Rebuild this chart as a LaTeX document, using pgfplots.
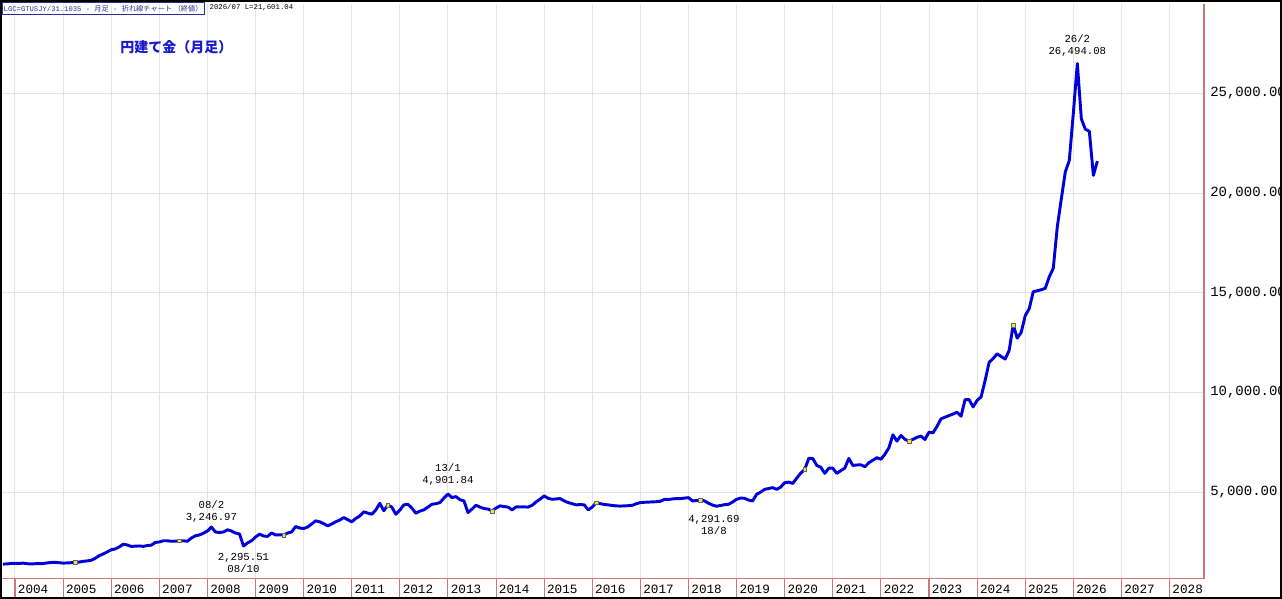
\documentclass[border=0pt]{standalone}
\usepackage{pgfplots}
\pgfplotsset{compat=1.18}
\usepackage{pgfplotstable}
\usepackage{fontspec}
\setmainfont{Liberation Sans}
\newfontfamily\mono{Liberation Mono}
\newfontfamily\cjk{Noto Sans CJK JP}
\definecolor{lineblue}{RGB}{0,0,220}
\definecolor{titleblue}{RGB}{25,25,205}
\definecolor{hdrblue}{RGB}{45,45,150}
\definecolor{gridgray}{RGB}{228,228,228}
\definecolor{axisred}{RGB}{205,120,120}
\definecolor{markyellow}{RGB}{240,230,60}
\pgfplotstableread[row sep=\\]{
v\\
1390\\1400\\1420\\
1430\\1420\\1440\\1410\\1400\\1410\\1410\\1420\\1450\\1470\\1480\\1460\\
1440\\1450\\1460\\1475\\1490\\1530\\1550\\1580\\1680\\1810\\1900\\2000\\
2110\\2150\\2250\\2390\\2350\\2275\\2290\\2300\\2280\\2320\\2340\\2475\\
2500\\2560\\2560\\2535\\2540\\2560\\2560\\2535\\2700\\2810\\2850\\2940\\
3050\\3247\\3000\\2975\\3000\\3110\\3050\\2950\\2900\\2296\\2450\\2560\\
2750\\2890\\2800\\2780\\2950\\2850\\2860\\2850\\2950\\3000\\3275\\3200\\
3175\\3250\\3400\\3560\\3510\\3420\\3310\\3400\\3510\\3600\\3725\\3620\\
3510\\3680\\3800\\4010\\3950\\3890\\4100\\4440\\4065\\4340\\4250\\3890\\
4100\\4360\\4390\\4200\\3940\\4050\\4110\\4250\\4390\\4420\\4475\\4700\\
4902\\4725\\4775\\4620\\4560\\3975\\4150\\4340\\4250\\4175\\4150\\4060\\
4200\\4310\\4275\\4250\\4110\\4260\\4255\\4260\\4250\\4340\\4510\\4650\\
4810\\4690\\4640\\4660\\4675\\4560\\4475\\4420\\4360\\4380\\4360\\4110\\
4250\\4475\\4420\\4380\\4360\\4330\\4310\\4300\\4310\\4320\\4340\\4420\\
4475\\4490\\4500\\4510\\4520\\4540\\4640\\4630\\4660\\4675\\4670\\4700\\
4725\\4560\\4580\\4610\\4560\\4440\\4350\\4292\\4330\\4370\\4390\\4500\\
4640\\4700\\4690\\4600\\4560\\4890\\5000\\5140\\5180\\5225\\5140\\5250\\
5475\\5500\\5440\\5700\\5950\\6140\\6690\\6690\\6340\\6250\\5940\\6200\\
6200\\5940\\6080\\6205\\6690\\6340\\6360\\6375\\6275\\6475\\6600\\6725\\
6650\\6900\\7225\\7875\\7560\\7840\\7650\\7560\\7650\\7750\\7810\\7640\\
8010\\7975\\8300\\8675\\8760\\8840\\8920\\9010\\8810\\9640\\9640\\9275\\
9600\\9775\\10600\\11510\\11700\\11940\\11800\\11675\\12110\\13390\\12725\\13010\\
13850\\14200\\15050\\15100\\15150\\15225\\15800\\16225\\18300\\19700\\21060\\21640\\
24000\\26494\\23725\\23200\\23100\\20890\\21601\\
}\gold
\begin{document}
\begin{tikzpicture}[x=1pt,y=1pt]
\useasboundingbox (0,0) rectangle (961.5,449.25);
\begin{axis}[
  at={(0,10.2)}, anchor=south west, scale only axis,
  width=903pt, height=431.25pt,
  xmin=-3.74, xmax=296.6, ymin=660, ymax=29500,
  axis x line*=bottom, axis y line*=right,
  axis line style={-, draw=axisred, line width=0.8pt},
  xtick={0,12,...,288},
  xticklabels={2004,2005,2006,2007,2008,2009,2010,2011,2012,2013,2014,2015,2016,2017,2018,2019,2020,2021,2022,2023,2024,2025,2026,2027,2028},
  ytick={5000,10000,15000,20000,25000},
  yticklabels={{5,000.00},{10,000.00},{15,000.00},{20,000.00},{25,000.00}},
  grid=major, major grid style={gridgray, line width=0.75pt},
  tick align=outside, major tick length=16.5pt,
  xtick style={axisred, line width=0.8pt},
  ytick style={draw=none},
  xticklabel style={font=\mono\fontsize{9.5}{10}\selectfont, anchor=south west, inner sep=0pt, xshift=2pt, yshift=5pt},
  yticklabel style={font=\mono\fontsize{10.5}{12}\selectfont, anchor=west, inner sep=0pt, xshift=-12pt},
]
\addplot[lineblue, line width=2.2pt, line join=round] table[x expr=\coordindex-3, y=v]{\gold};
\addplot[only marks, mark=square*, mark size=1.4pt, mark options={fill=markyellow, draw=black!60, line width=0.3pt}]
  coordinates {(15,1475)(41,2560)(67,2850)(93,4340)(119,4060)(145,4475)(171,4610)(197,6140)(223,7560)(249,13390)};
\node[font=\mono\fontsize{8}{9.5}\selectfont, align=center, anchor=south, inner sep=1pt, yshift=2pt] at (axis cs:49,3247) {08/2\\3,246.97};
\node[font=\mono\fontsize{8}{9.5}\selectfont, align=center, anchor=north, inner sep=1pt, yshift=-4pt] at (axis cs:57,2296) {2,295.51\\08/10};
\node[font=\mono\fontsize{8}{9.5}\selectfont, align=center, anchor=south, inner sep=1pt, yshift=5pt] at (axis cs:108,4902) {13/1\\4,901.84};
\node[font=\mono\fontsize{8}{9.5}\selectfont, align=center, anchor=north, inner sep=1pt, yshift=-5.5pt, xshift=-2pt] at (axis cs:175,4292) {4,291.69\\18/8};
\node[font=\mono\fontsize{8}{9.5}\selectfont, align=center, anchor=south, inner sep=1pt, yshift=4pt] at (axis cs:265,26494) {26/2\\26,494.08};
\end{axis}
\node[anchor=north west, draw=hdrblue, line width=0.6pt, inner sep=1pt, text=hdrblue, font=\fontsize{5.4}{6.5}\selectfont, minimum height=9pt] at (1.5,447.75) {{\mono LGC=GTUSJY/31.1035 - }{\cjk 月足}{\mono{} - }{\cjk 折れ線チャート （終値）}};
\node[anchor=west, inner sep=0pt, font=\mono\fontsize{5.5}{6.5}\selectfont] at (157,443.25) {2026/07 L=21,601.04};
\node[anchor=west, inner sep=0pt, text=titleblue, font=\cjk\bfseries\fontsize{10.5}{12}\selectfont] at (90,414) {円建て金（月足）};
\draw[black, line width=1.5pt] (0.75,0.75) rectangle (960.75,448.5);
\end{tikzpicture}
\end{document}
